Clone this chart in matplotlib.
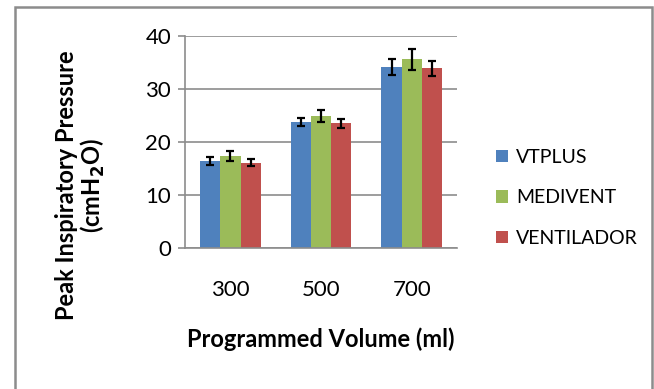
import numpy as np
import matplotlib
matplotlib.use("Agg")
import matplotlib.pyplot as plt
from matplotlib.patches import Rectangle

# data
volumes = ["300", "500", "700"]
series = ["VTPLUS", "MEDIVENT", "VENTILADOR"]
vtplus = [16.5, 23.7, 34.2]
medivent = [17.4, 24.9, 35.6]
ventilador = [16.1, 23.5, 33.9]
vtplus_err = [0.75, 0.75, 1.55]
medivent_err = [0.95, 1.05, 2.0]
ventilador_err = [0.65, 0.8, 1.45]

colors = ["#4F81BD", "#9BBB59", "#C0504D"]
grid_col = "#8C8C8C"
plt.rcParams["font.family"] = ["Lato", "DejaVu Sans"]

fig = plt.figure(figsize=(6.54, 3.89), dpi=100)
ax = fig.add_axes([0.283, 0.3625, 0.416, 0.545])

x = np.arange(len(volumes))
w = 0.223
values = [vtplus, medivent, ventilador]
errs = [vtplus_err, medivent_err, ventilador_err]
for i, (vals, err) in enumerate(zip(values, errs)):
    ax.bar(x + (i - 1) * w, vals, w, color=colors[i], label=series[i], zorder=2)
    ax.errorbar(x + (i - 1) * w, vals, yerr=err, fmt="none", ecolor="black",
                elinewidth=1.6, capsize=3, capthick=1.6, zorder=3)

ax.set_xlim(-0.5, 2.5)
ax.set_ylim(0, 40)
ax.set_yticks([0, 10, 20, 30, 40])
ax.set_xticks(x)
ax.set_xticklabels(volumes)
ax.yaxis.grid(True, color=grid_col, linewidth=1.2, zorder=0)
ax.set_axisbelow(True)
for s in ["top", "right"]:
    ax.spines[s].set_visible(False)
for s in ["left", "bottom"]:
    ax.spines[s].set_color(grid_col)
    ax.spines[s].set_linewidth(1.2)
ax.tick_params(axis="y", length=5, color=grid_col, width=1.2, labelsize=16, pad=5)
ax.tick_params(axis="x", length=0, labelsize=16, pad=23)

ax.set_xlabel("Programmed Volume (ml)", fontsize=17, fontweight="bold", labelpad=20)
# y label sits lower than the plot centre, as in the reference
fig.text(81 / 654, 1 - 185 / 389, "Peak Inspiratory Pressure\n(cmH$_\\mathbf{2}$O)",
         fontsize=17, fontweight="bold", rotation=90, ha="center", va="center",
         linespacing=1.05, multialignment="center")

ax.legend(loc="center left", bbox_to_anchor=(1.08, 0.236), frameon=False,
          fontsize=14, handlelength=0.6, handleheight=0.6, handletextpad=0.4,
          labelspacing=1.2)

# outer chart border
fig.patches.append(Rectangle((15 / 654, -0.05), 637 / 654, 1 - 6.5 / 389 + 0.05,
                             transform=fig.transFigure, fill=False,
                             edgecolor="#8C8C8C", linewidth=1.8))

fig.savefig("out.png", dpi=100)
